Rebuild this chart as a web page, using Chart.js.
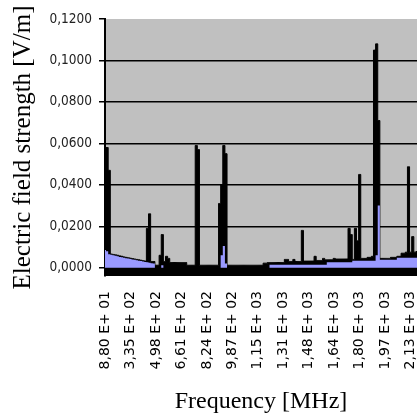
<!DOCTYPE html>
<html>
<head>
<meta charset="utf-8">
<script src="https://cdn.jsdelivr.net/npm/chart.js@4/dist/chart.umd.min.js"></script>
<style>
  html, body { margin: 0; padding: 0; background: #fff; }
</style>
</head>
<body>
<canvas id="myChart" width="419" height="419"></canvas>
<script>
var tickLabels = ["8,80 E+ 01", "3,35 E+ 02", "4,98 E+ 02", "6,61 E+ 02", "8,24 E+ 02", "9,87 E+ 02",
  "1,15 E+ 03", "1,31 E+ 03", "1,48 E+ 03", "1,64 E+ 03", "1,80 E+ 03", "1,97 E+ 03", "2,13 E+ 03"];
var pointsPerTick = 12;
var yTicks = [0, 0.02, 0.04, 0.06, 0.08, 0.1, 0.12];

// black series (peak)
var peakValues = [
  0.058, 0.058, 0.047, 0.0066, 0.0064, 0.0062, 0.006, 0.0057, 0.0055, 0.0052,
  0.005, 0.0048, 0.0046, 0.0044, 0.0042, 0.004, 0.0038, 0.0036, 0.0034, 0.0032,
  0.019, 0.026, 0.003, 0.003, 0.0012, 0.0012, 0.006, 0.016, 0.003, 0.0055,
  0.0045, 0.0025, 0.0025, 0.0025, 0.0025, 0.0025, 0.0025, 0.0025, 0.0025, 0.0012,
  0.0012, 0.0012, 0.0012, 0.059, 0.057, 0.0012, 0.0012, 0.0012, 0.0012, 0.0012,
  0.0012, 0.0012, 0.0012, 0.0012, 0.031, 0.040, 0.059, 0.055, 0.0012, 0.0012,
  0.0012, 0.0012, 0.0012, 0.0012, 0.0012, 0.0012, 0.0012, 0.0012, 0.0012, 0.0012,
  0.0012, 0.0012, 0.0012, 0.0012, 0.0012, 0.0022, 0.0022, 0.0025, 0.0025, 0.0025,
  0.0025, 0.0025, 0.0025, 0.0025, 0.0025, 0.004, 0.004, 0.003, 0.003, 0.004,
  0.003, 0.003, 0.003, 0.018, 0.0032, 0.0032, 0.0032, 0.0032, 0.0032, 0.0055,
  0.0035, 0.0035, 0.0035, 0.0045, 0.0038, 0.0038, 0.0038, 0.0038, 0.0045, 0.0042,
  0.0042, 0.0042, 0.0042, 0.0042, 0.0042, 0.019, 0.016, 0.004, 0.019, 0.013,
  0.045, 0.0045, 0.0045, 0.0045, 0.005, 0.005, 0.0055, 0.105, 0.108, 0.071,
  0.0045, 0.0045, 0.0045, 0.0045, 0.0045, 0.005, 0.005, 0.005, 0.0055, 0.0055,
  0.007, 0.007, 0.0075, 0.0487, 0.0075, 0.015, 0.0075, 0.0078
];

// blue series (mean)
var meanValues = [
  0.0085, 0.008, 0.0065, 0.0062, 0.006, 0.0058, 0.0055, 0.0052, 0.005, 0.0048,
  0.0046, 0.0044, 0.0042, 0.004, 0.0038, 0.0036, 0.0034, 0.0032, 0.003, 0.0028,
  0.0026, 0.0024, 0.0022, 0.002, 0, 0, 0, 0.0012, 0, 0,
  0, 0, 0, 0, 0, 0, 0, 0, 0, 0,
  0, 0, 0, 0, 0, 0, 0, 0, 0, 0,
  0, 0, 0, 0, 0, 0.006, 0.0105, 0.002, 0, 0,
  0, 0, 0, 0, 0, 0, 0, 0, 0, 0,
  0, 0, 0, 0, 0, 0, 0, 0, 0.0014, 0.0014,
  0.0014, 0.0014, 0.0014, 0.0014, 0.0014, 0.0014, 0.0014, 0.0014, 0.0014, 0.0014,
  0.0014, 0.0014, 0.0014, 0.0014, 0.0014, 0.0014, 0.0014, 0.0014, 0.0014, 0.0014,
  0.0014, 0.0014, 0.0014, 0.0014, 0.0014, 0.0026, 0.0026, 0.0026, 0.0026, 0.0026,
  0.0026, 0.0026, 0.0026, 0.0026, 0.0026, 0.0026, 0.0026, 0.0034, 0.0034, 0.0034,
  0.0034, 0.0034, 0.0034, 0.0034, 0.0034, 0.0034, 0.0034, 0.0034, 0.006, 0.030,
  0.0039, 0.0039, 0.0039, 0.0039, 0.0039, 0.0039, 0.0039, 0.0039, 0.0048, 0.0048,
  0.0048, 0.0048, 0.0048, 0.0048, 0.0048, 0.0048, 0.0048, 0.0048
];

var labels = peakValues.map(function (v, i) {
  return i % pointsPerTick === 0 ? tickLabels[i / pointsPerTick] : '';
});

// grey plot area above the zero line
var plotBackground = {
  id: 'plotBackground',
  beforeDraw: function (chart) {
    var a = chart.chartArea;
    var ctx = chart.ctx;
    var y0 = chart.scales.y.getPixelForValue(0);
    ctx.save();
    ctx.fillStyle = '#c0c0c0';
    ctx.fillRect(a.left, a.top, a.right - a.left, y0 - a.top);
    ctx.restore();
  }
};

var ctx = document.getElementById('myChart').getContext('2d');

var myChart = new Chart(ctx, {
  type: 'line',
  data: {
    labels: labels,
    datasets: [{
      label: 'mean',
      data: meanValues,
      backgroundColor: '#9999ff',
      borderColor: '#9999ff',
      borderWidth: 0,
      fill: 'origin',
      stepped: 'middle',
      pointRadius: 0
    }, {
      label: 'peak',
      data: peakValues,
      backgroundColor: '#000',
      borderColor: '#000',
      borderWidth: 1,
      fill: 'start',
      stepped: 'middle',
      pointRadius: 0
    }]
  },
  options: {
    responsive: false,
    animation: false,
    layout: { padding: { top: 19, right: 2, left: 0, bottom: 0 } },
    plugins: {
      legend: { display: false },
      tooltip: { enabled: false }
    },
    scales: {
      x: {
        grid: { display: false },
        border: { display: false },
        ticks: {
          autoSkip: false, maxRotation: 90, minRotation: 90, padding: 7,
          color: '#000', font: { family: 'DejaVu Sans', size: 14 }
        },
        afterFit: function (scale) {
          scale.height = 143;
          scale.paddingLeft = 0;
          scale.paddingRight = 0;
        },
        title: {
          display: true, text: 'Frequency [MHz]', color: '#000',
          font: { family: 'Liberation Serif', size: 24 },
          padding: { top: 4, bottom: 3 }
        }
      },
      y: {
        min: -0.004,
        max: 0.12,
        afterBuildTicks: function (scale) {
          scale.ticks = yTicks.map(function (v) { return { value: v }; });
        },
        afterFit: function (scale) { scale.width = 105; },
        ticks: {
          padding: 7, color: '#222',
          font: { family: "'DejaVu Sans Condensed', sans-serif", size: 13.5 },
          callback: function (v) { return Number(v).toFixed(4).replace('.', ','); }
        },
        grid: {
          color: function (c) { return c.tick && c.tick.value >= 0.12 ? 'rgba(0,0,0,0)' : '#000'; },
          lineWidth: 1.5, tickColor: '#000', tickLength: 6
        },
        border: { display: true, color: '#000', width: 2 },
        title: {
          display: true, text: 'Electric field strength [V/m]', color: '#000',
          font: { family: 'Liberation Serif', size: 25 },
          padding: { top: 8, bottom: 0 }
        }
      }
    }
  },
  plugins: [plotBackground]
});
</script>
</body>
</html>
